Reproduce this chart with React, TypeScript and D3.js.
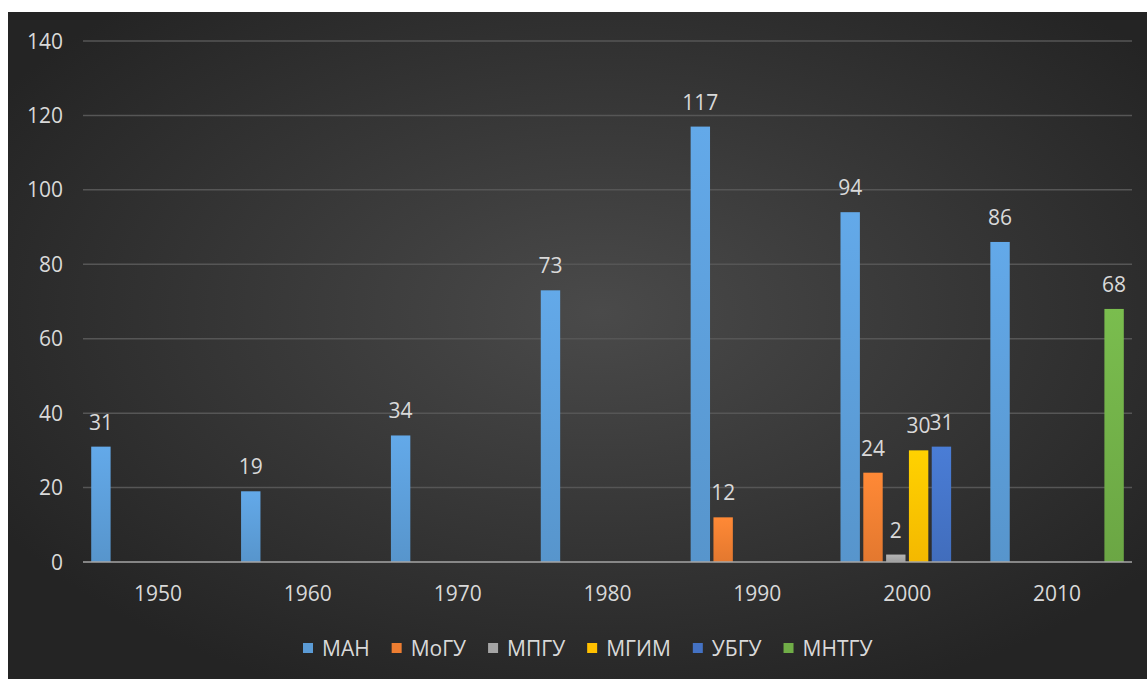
import { useEffect, useRef } from "react";
import * as d3 from "d3";

const YEARS = ["1950", "1960", "1970", "1980", "1990", "2000", "2010"];
const SERIES = ["МАН", "МоГУ", "МПГУ", "МГИМ", "УБГУ", "МНТГУ"];
const COLORS = ["#5b9bd5", "#ed7d31", "#a5a5a5", "#ffc000", "#4472c4", "#70ad47"];

const MAN = [31, 19, 34, 73, 117, 94, 86];
const MOGU = [null, null, null, null, 12, 24, null];
const MPGU = [null, null, null, null, null, 2, null];
const MGIM = [null, null, null, null, null, 30, null];
const UBGU = [null, null, null, null, null, 31, null];
const MNTGU = [null, null, null, null, null, null, 68];

const Y_TICKS = [0, 20, 40, 60, 80, 100, 120, 140];

const W = 1147;
const H = 679;

export default function App() {
  const svgRef = useRef<SVGSVGElement | null>(null);

  useEffect(() => {
    const svg = svgRef.current;
    if (!svg) return;
    document.body.style.margin = "0";
    svg.innerHTML = "";

    const values = [MAN, MOGU, MPGU, MGIM, UBGU, MNTGU];
    const root = d3.select(svg).attr("width", W).attr("height", H);
    const defs = root.append("defs");

    // chart area background
    const bg = defs.append("radialGradient").attr("id", "bg")
      .attr("cx", "52%").attr("cy", "45%").attr("r", "62%");
    bg.append("stop").attr("offset", "0%").attr("stop-color", "#4a4a4a");
    bg.append("stop").attr("offset", "100%").attr("stop-color", "#242424");

    COLORS.forEach((c, i) => {
      const g = defs.append("linearGradient").attr("id", `bar${i}`)
        .attr("x1", 0).attr("y1", 0).attr("x2", 0).attr("y2", 1);
      g.append("stop").attr("offset", "0%").attr("stop-color", d3.rgb(c).brighter(0.25).formatHex());
      g.append("stop").attr("offset", "100%").attr("stop-color", d3.rgb(c).darker(0.12).formatHex());
    });

    root.append("rect").attr("width", W).attr("height", H).attr("fill", "#fff");
    root.append("rect").attr("x", 8).attr("y", 12).attr("width", W - 8).attr("height", H - 12)
      .attr("fill", "url(#bg)");

    const x0 = d3.scaleBand().domain(YEARS).range([83, 1132]).padding(0);
    const x1 = d3.scaleBand().domain(SERIES).range([0, x0.bandwidth()])
      .paddingInner(0.15).paddingOuter(0.36);
    const y = d3.scaleLinear().domain([0, 140]).range([562, 41]);

    const font = "'Open Sans', 'Segoe UI', sans-serif";
    const txt = "#d9d9d9";
    const fs = "21px";

    // grid
    root.append("g").selectAll("line").data(Y_TICKS.filter((t) => t > 0)).join("line")
      .attr("x1", 83).attr("x2", 1132)
      .attr("y1", (d) => y(d)).attr("y2", (d) => y(d))
      .attr("stroke", "#565656").attr("stroke-width", 1.5);

    // y labels
    root.append("g").selectAll("text").data(Y_TICKS).join("text")
      .attr("x", 63).attr("y", (d) => y(d)).attr("dy", "0.36em")
      .attr("text-anchor", "end").attr("fill", txt)
      .style("font-family", font).style("font-size", fs)
      .text((d) => d);

    // bars
    SERIES.forEach((s, si) => {
      const pts = YEARS.map((yr, i) => ({ yr, v: values[si][i] }))
        .filter((p): p is { yr: string; v: number } => p.v !== null);
      const g = root.append("g");
      g.selectAll("rect").data(pts).join("rect")
        .attr("x", (p) => x0(p.yr)! + x1(s)!)
        .attr("width", x1.bandwidth())
        .attr("y", (p) => y(p.v))
        .attr("height", (p) => y(0) - y(p.v))
        .attr("fill", `url(#bar${si})`);
      g.selectAll("text").data(pts).join("text")
        .attr("x", (p) => x0(p.yr)! + x1(s)! + x1.bandwidth() / 2)
        .attr("y", (p) => y(p.v) - 17)
        .attr("text-anchor", "middle").attr("fill", txt)
        .style("font-family", font).style("font-size", fs)
        .text((p) => p.v);
    });

    // zero axis line
    root.append("line").attr("x1", 83).attr("x2", 1132)
      .attr("y1", y(0)).attr("y2", y(0))
      .attr("stroke", "#a6a6a6").attr("stroke-width", 1.5);

    // x labels
    root.append("g").selectAll("text").data(YEARS).join("text")
      .attr("x", (d) => x0(d)! + x0.bandwidth() / 2).attr("y", 601)
      .attr("text-anchor", "middle").attr("fill", txt)
      .style("font-family", font).style("font-size", fs)
      .text((d) => d);

    // legend
    const leg = root.append("g");
    let lx = 303;
    SERIES.forEach((s, i) => {
      leg.append("rect").attr("x", lx).attr("y", 643).attr("width", 10).attr("height", 10)
        .attr("fill", COLORS[i]);
      const t = leg.append("text").attr("x", lx + 19).attr("y", 656)
        .attr("fill", txt).style("font-family", font).style("font-size", fs)
        .text(s);
      const tw = (t.node() as SVGTextElement).getComputedTextLength();
      lx += 19 + tw + 22;
    });
  }, []);

  return <svg ref={svgRef} style={{ display: "block" }} />;
}
